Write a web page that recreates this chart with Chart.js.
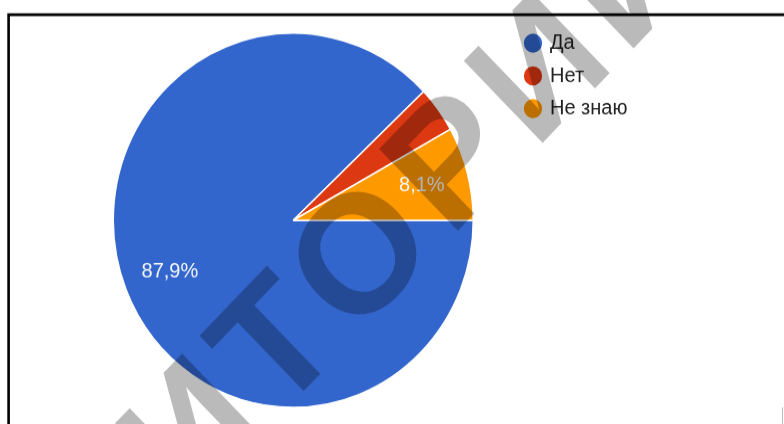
<!DOCTYPE html>
<html><head><meta charset="utf-8">
<script src="https://cdn.jsdelivr.net/npm/chart.js@4"></script>
<style>
html,body{margin:0;padding:0;background:#fff;overflow:hidden;width:784px;height:424px;}
#wrap{width:784px;height:408px;transform:scaleY(1.0392);transform-origin:0 0;}
canvas{display:block;}
</style></head><body>
<div id="wrap"><canvas id="c" width="784" height="408"></canvas></div>
<script>
const categories = ['Да', 'Нет', 'Не знаю'];
const shares = [87.9, 4.0, 8.1];
const sliceColors = ['#3366CC', '#DC3912', '#FF9900'];
const watermarkText = 'РЕПОЗИТОРИЙ';

const fmt = v => v.toFixed(1).replace('.', ',') + '%';

const framePlugin = {
  id: 'frame',
  beforeDraw(chart) {
    const ctx = chart.ctx;
    ctx.save();
    ctx.fillStyle = '#fff';
    ctx.fillRect(0, 0, chart.width, chart.height);
    ctx.strokeStyle = '#000';
    ctx.lineWidth = 2.6;
    ctx.beginPath();
    ctx.moveTo(784, 14.1);
    ctx.lineTo(8.6, 14.1);
    ctx.lineTo(8.6, 408);
    ctx.stroke();
    ctx.strokeStyle = '#bbb';
    ctx.lineWidth = 1;
    ctx.beginPath();
    ctx.moveTo(782.5, 392);
    ctx.lineTo(782.5, 408);
    ctx.stroke();
    ctx.restore();
  }
};

const sliceLabels = {
  id: 'sliceLabels',
  afterDatasetsDraw(chart) {
    const ctx = chart.ctx;
    const meta = chart.getDatasetMeta(0);
    ctx.save();
    ctx.font = '20px "Liberation Sans", Arial, sans-serif';
    ctx.fillStyle = '#f4f6fb';
    ctx.textAlign = 'center';
    ctx.textBaseline = 'middle';
    meta.data.forEach((arc, i) => {
      const v = shares[i];
      if (v < 5) return;
      const p = arc.getProps(['x', 'y', 'startAngle', 'endAngle', 'outerRadius'], true);
      const mid = (p.startAngle + p.endAngle) / 2;
      const d = p.outerRadius * 0.738;
      ctx.fillText(fmt(v), p.x + Math.cos(mid) * d, p.y + Math.sin(mid) * d);
    });
    ctx.restore();
  }
};

const watermark = {
  id: 'watermark',
  afterDraw(chart) {
    const ctx = chart.ctx;
    ctx.save();
    const size = 162;
    const ls = 12;
    ctx.font = 'bold ' + size + 'px "Liberation Sans", Arial, sans-serif';
    ctx.letterSpacing = ls + 'px';
    ctx.fillStyle = 'rgba(0,0,0,0.27)';
    const pre = ctx.measureText(watermarkText.slice(0, 6)).width;
    const tW = ctx.measureText(watermarkText[6]).width;
    ctx.translate(271, 327);
    ctx.rotate(-45 * Math.PI / 180);
    ctx.textBaseline = 'alphabetic';
    ctx.fillText(watermarkText, -(pre + (tW - ls) / 2), size * 0.716 / 2);
    ctx.restore();
  }
};

new Chart(document.getElementById('c'), {
  type: 'pie',
  data: {
    labels: categories,
    datasets: [{
      data: shares,
      backgroundColor: sliceColors,
      borderColor: '#ffffff',
      borderWidth: 1.5,
      hoverOffset: 0
    }]
  },
  options: {
    responsive: false,
    animation: false,
    rotation: 90,
    radius: 180,
    layout: { padding: { left: 72, right: 151.5, top: 20, bottom: 4 } },
    plugins: {
      legend: {
        position: 'right',
        align: 'start',
        maxWidth: 118,
        labels: {
          usePointStyle: true,
          pointStyle: 'circle',
          boxWidth: 14,
          boxHeight: 14,
          padding: 11.5,
          color: '#222',
          font: { size: 20, family: '"Liberation Sans", Arial, sans-serif' }
        }
      },
      tooltip: { enabled: false }
    }
  },
  plugins: [framePlugin, sliceLabels, watermark]
});
</script>
</body></html>
